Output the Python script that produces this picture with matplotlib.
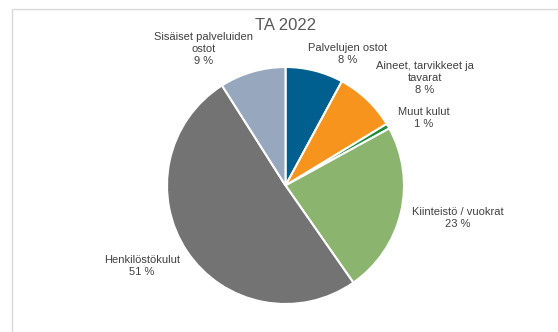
import matplotlib
matplotlib.use("Agg")
import matplotlib.pyplot as plt
from matplotlib.patches import Rectangle

# data
title = "TA 2022"
categories = ["Palvelujen ostot", "Aineet, tarvikkeet ja\ntavarat", "Muut kulut",
              "Kiinteistö / vuokrat", "Henkilöstökulut", "Sisäiset palveluiden\nostot"]
values = [7.9, 8.4, 0.7, 23.3, 50.7, 9.0]
colors = ["#005f8f", "#f7941d", "#1e8c3a", "#8bb46f", "#737373", "#97a7bd"]
# label centres (pixels in the picture)
label_px = [(348, 54), (425, 78), (424, 118), (458, 218), (142, 266), (204, 49)]

W, H = 558, 332
fig = plt.figure(figsize=(W / 100, H / 100), dpi=100)
fig.patch.set_facecolor("white")

# chart border (cropped Excel chart)
fig.patches.append(Rectangle((11.5 / W, -0.1), 1.2, (H - 8.5) / H + 0.1, transform=fig.transFigure,
                             fill=False, edgecolor="#d9d9d9", linewidth=1.0))

cx, cy, r = 285.5, 185.5, 118.5
ax = fig.add_axes([(cx - r) / W, (H - cy - r) / H, 2 * r / W, 2 * r / H])
ax.pie(values, colors=colors, startangle=90, counterclock=False, radius=1,
       wedgeprops=dict(edgecolor="white", linewidth=1.5))
ax.set_xlim(-1, 1)
ax.set_ylim(-1, 1)
ax.set_aspect("auto")
ax.axis("off")

for cat, v, (px, py) in zip(categories, values, label_px):
    x = (px - cx) / r
    y = (cy - py) / r
    ax.text(x, y, "%s\n%d %%" % (cat, round(v)), ha="center", va="center",
            fontsize=8, color="#404040", family="Liberation Sans", linespacing=1.3,
            clip_on=False)

fig.text(cx / W, 1 - 26 / H, title, ha="center", va="center", fontsize=12,
         color="#595959", family="Liberation Sans")

fig.savefig("out.png", dpi=100)
